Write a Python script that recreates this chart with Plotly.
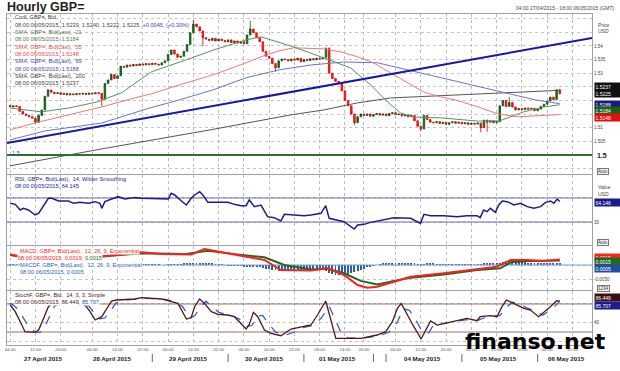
import plotly.graph_objects as go
import pandas as pd

# ---------------- data ----------------
close = [
 1.5176,1.5180,1.5178,1.5160,1.5150,1.5145,1.5140,1.5135,1.5120,1.5145,
 1.5165,1.5215,1.5238,1.5230,1.5225,
 1.5228,1.5222,1.5226,1.5220,1.5224,1.5221,1.5225,1.5223,1.5226,1.5222,1.5227,1.5224,1.5228,1.5226,
 1.5205,1.5262,1.5275,1.5295,1.5280,1.5290,1.5325,
 1.5322,1.5330,1.5326,1.5332,1.5328,1.5334,1.5330,1.5335,1.5331,1.5336,1.5333,1.5330,1.5338,
 1.5345,1.5368,1.5385,1.5370,1.5358,1.5362,1.5380,1.5405,1.5448,1.5480,1.5470,1.5455,1.5430,1.5425,
 1.5420,1.5428,1.5418,1.5425,1.5420,1.5415,1.5422,1.5412,1.5418,1.5410,1.5415,1.5408,
 1.5440,1.5462,1.5448,1.5430,1.5415,1.5380,1.5362,1.5355,1.5335,1.5320,1.5345,1.5352,
 1.5350,1.5345,1.5352,1.5348,1.5355,1.5342,1.5350,1.5346,1.5353,1.5349,1.5355,1.5352,
 1.5358,1.5390,1.5300,1.5280,1.5270,1.5262,1.5235,1.5200,1.5180,1.5150,1.5118,1.5140,1.5150,
 1.5145,1.5150,1.5142,1.5148,1.5152,1.5146,1.5150,1.5144,1.5152,1.5155,1.5148,1.5150,1.5143,1.5147,1.5140,1.5145,
 1.5125,1.5105,1.5095,1.5145,1.5130,1.5120,
 1.5118,1.5122,1.5115,1.5120,1.5112,1.5118,1.5122,1.5116,1.5120,1.5114,1.5118,1.5112,1.5116,1.5113,1.5117,
 1.5100,1.5128,1.5120,1.5125,1.5118,1.5122,
 1.5180,1.5200,1.5178,1.5192,1.5176,1.5165,1.5170,1.5166,1.5172,1.5168,1.5171,1.5162,1.5168,1.5178,
 1.5186,1.5198,1.5212,1.5203,1.5239,1.5225,
]
first_open = 1.5182
wick_high = {12: 1.5242, 58: 1.5495, 76: 1.5492, 100: 1.5395, 101: 1.5395, 158: 1.5212, 173: 1.5240}
wick_low = {8: 1.5115, 29: 1.5178, 61: 1.5398, 84: 1.5305, 109: 1.5110, 130: 1.5088,
            149: 1.5083, 151: 1.5085, 174: 1.5222}

# moving averages: (bar index, value)
sma21_x = [0, 10, 18.5, 27.4, 35.3, 44.7, 55.8, 64.4, 74.7, 79.4, 85.7, 90.5, 99.3, 107.8, 114.1,
           119.5, 123.6, 127.7, 136.2, 148.2, 155, 162.6, 169, 174]
sma21_y = [1.5172, 1.5158, 1.5172, 1.5194, 1.5228, 1.5305, 1.5349, 1.5385, 1.5422, 1.5433, 1.5411,
           1.5393, 1.5356, 1.5319, 1.5257, 1.5194, 1.5154, 1.5139, 1.5136, 1.5124, 1.5125, 1.5158,
           1.5176, 1.5184]
sma55_x = [0, 7.8, 18.5, 29, 39.4, 44.7, 53.6, 64.3, 74.7, 81, 85.1, 89.8, 99.3, 104.7, 110, 115,
           120.4, 125.8, 130.9, 136.2, 140.9, 148.2, 154.5, 160.8, 167.8, 174]
sma55_y = [1.5092, 1.5117, 1.5147, 1.5176, 1.5209, 1.5224, 1.5257, 1.5294, 1.5338, 1.5367, 1.5382,
           1.5393, 1.5389, 1.5378, 1.5360, 1.5338, 1.5301, 1.5264, 1.5231, 1.5213, 1.5202, 1.5176,
           1.5150, 1.5140, 1.5143, 1.5148]
sma89_x = [0, 11, 29, 37.5, 43.2, 53.6, 64.3, 74.7, 85.1, 95.2, 105.6, 116.3, 129.9, 145, 155.8,
           166.2, 174]
sma89_y = [1.5055, 1.5088, 1.5117, 1.5147, 1.5169, 1.5202, 1.5239, 1.5283, 1.5312, 1.5330, 1.5341,
           1.5338, 1.5301, 1.5261, 1.5231, 1.5202, 1.5188]
sma200_x = [0, 29, 64.3, 88.9, 99.3, 110, 120.4, 136.2, 155.8, 174]
sma200_y = [1.4960, 1.5022, 1.5094, 1.5147, 1.5165, 1.5191, 1.5209, 1.5217, 1.5228, 1.5237]
trend_x = [-1.0, 184.2]
trend_y = [1.5044, 1.5429]
support_level = 1.5

rsi_x = [0, 1.6, 3.2, 4.2, 5.8, 7.9, 9, 10.6, 12.1, 13.2, 15.3, 18.5, 20, 22.1, 24.8, 26.9, 28.4, 29,
         30, 32.1, 34.2, 36.3, 39.5, 41.6, 44.7, 47.9, 50, 51, 52.1, 54.2, 55.8, 57.3, 58.4, 60, 61,
         62.6, 64.7, 68.9, 71, 73.1, 74.7, 75.7, 77.3, 79.4, 81.5, 83.6, 85.7, 86.3, 86.8, 89.9,
         93.1, 95.2, 98.4, 99.9, 101, 105.7, 108.9, 110, 112, 114.1, 116.2, 118.3, 121.5, 126.8,
         129.9, 131, 133.1, 137.3, 141.5, 144.6, 147.8, 148.8, 149.9, 151, 152, 153.6, 154.7,
         155.8, 157.4, 159.5, 161.6, 163.7, 165.8, 167.9, 169.5, 171.1, 172.1, 173.2, 174]
rsi_y = [61.1, 59.4, 50, 52.8, 50, 41.7, 44.4, 58.3, 69.4, 69.4, 65, 65, 61.1, 62.8, 61.1, 63.9, 61.1,
         52.8, 63.9, 68.3, 72.2, 68.3, 70.6, 69.4, 69.4, 69.4, 68.3, 77.8, 75, 65, 58.3, 69.4, 75,
         80.6, 75, 62.8, 62.8, 62.8, 59.4, 57.2, 57.2, 66.7, 55.6, 58.3, 38.9, 37.2, 31.7, 38.9,
         42.8, 41.7, 40.6, 41.7, 44.4, 57.2, 36.1, 30.6, 18.3, 25, 26.1, 29.4, 31.7, 33.3, 37.2,
         36.1, 27.8, 42.8, 40.6, 40.6, 38.9, 40.6, 40.6, 37.2, 50, 47.2, 52.8, 46.1, 58.3, 65,
         63.9, 58.3, 61.1, 55.6, 52.8, 55.6, 62.8, 65, 61.1, 68.3, 64.145]

macd_x = [0, 4, 28, 35, 41.6, 47.9, 57.3, 61.5, 64.7, 73.1, 80.5, 85.7, 95.2, 100.5, 105.7, 110,
          113, 116.2, 121.5, 126.8, 137.3, 147.8, 154.1, 158.4, 163.7, 168.9, 174]
macd_y = [0.0036, 0.0028, 0.0028, 0.0036, 0.0043, 0.0037, 0.0036, 0.0054, 0.0048, 0.0031, 0.0017,
          -0.0017, -0.0019, -0.0011, -0.0034, -0.0068, -0.0077, -0.0074, -0.0057, -0.0040,
          -0.0028, -0.0015, -0.0006, 0.0017, 0.0017, 0.0014, 0.0019]
signal_x = [0, 4, 28, 41.6, 55.2, 62.6, 71, 80.5, 86.8, 95.2, 100.5, 105.7, 111, 116.2, 121.5,
            126.8, 137.3, 147.8, 155.2, 158.4, 163.7, 168.9, 174]
signal_y = [0.0034, 0.0026, 0.0028, 0.0040, 0.0037, 0.0048, 0.0037, 0.0026, 0.0000, -0.0015,
            -0.0013, -0.0028, -0.0054, -0.0066, -0.0054, -0.0043, -0.0032, -0.0017, -0.0011,
            0.0009, 0.0014, 0.0014, 0.0015]
macdf_e4 = [3, 3, 2, 2, 1, 1, 0, -1, -1, 0, 1, 2, 3, 3, 3,
            2, 2, 1, 1, 1, 0, 0, 0, -1, -1, -1, 0, 1, 1, 2, 2,
            3, 3, 3, 3, 4, 4, 4, 3, 3, 3, 3, 2, 2, 2, 1,
            1, 1, 0, 0, 1, 2, 3, 3, 3, 4, 5, 6,
            7, 8, 8, 7, 6, 5, 4, 3, 2,
            1, 0, -1, -1, -2, -3, -3, -4, -4, -4, -5, -6, -8, -10,
            -12, -14, -16, -18, -20, -22, -22, -22, -21, -21, -20, -20, -19, -19, -18,
            -18, -17, -16, -18, -22, -26, -30, -33, -34, -34, -33, -31, -28, -24, -20, -16, -12,
            -8, -5, -2, 0, 2, 4, 6, 7, 8, 8, 8, 7, 6,
            5, 4, 4, 3, 2, 3, 4, 4, 4, 3, 3, 3, 3, 3, 3,
            3, 3, 2, 2, 2, 2, 2, 2, 3, 4, 4, 4, 4, 5, 8,
            11, 14, 16, 17, 16, 14, 12, 9, 7, 6,
            5, 5, 5, 5, 5, 5, 5, 5, 5]

stk_x = [0, 1.6, 3.2, 4.7, 7.9, 9, 10.6, 12.1, 14, 17, 20, 23.7, 25.3, 26.9, 29, 31, 32.1, 33.7,
         39.5, 41.6, 47.9, 51, 53.1, 55.8, 57.3, 58.4, 60, 61.5, 63.7, 65.8, 68.9, 71, 73.1, 74.7,
         75.7, 77, 78.4, 80.5, 82.6, 85.7, 88.9, 92, 95.2, 97.3, 99.9, 103.1, 105.7, 111, 116.2,
         118.9, 121, 122.6, 123.8, 125.7, 127.8, 130.1, 132, 133.1, 135.2, 139.4, 142.5, 144.6,
         147.8, 148.8, 152, 154.1, 155.7, 157.1, 159.4, 162.6, 164.7, 167.3, 171, 172.9, 174]
stk_y = [77.8, 63.6, 42.1, 20.7, 19.3, 24.3, 49.3, 74.2, 86, 88, 84, 77.8, 63.6, 45.7, 52.8, 74.2,
         86.4, 88.5, 90.7, 93.5, 90.7, 85, 81.4, 47.8, 50.7, 74.2, 90.7, 81.4, 63.6, 57.8, 56.4,
         52.8, 38.6, 26.4, 36.4, 62.1, 52.8, 24.3, 17.1, 12.1, 26.4, 31.4, 35, 56.4, 86.4, 6.4,
         6.4, 6.4, 13.6, 20.7, 42.1, 70.7, 81.4, 56.4, 31.4, 5, 31.4, 43.6, 35, 42.1, 45.7, 49.3,
         44.3, 52.8, 55, 52.8, 74.2, 88.5, 81.4, 70.7, 67.1, 52.8, 74.2, 86.4, 86.449]
std_x = [0, 2, 4, 6, 8, 9.5, 11, 12.5, 14, 17, 20, 23, 25, 26.5, 28.3, 30, 32, 33.5, 36, 40, 43, 49,
         52, 54.5, 57, 58.5, 60, 62, 64, 66, 70, 72.5, 75, 76.5, 78.5, 80, 82, 84, 87, 90, 93, 96,
         98.5, 101, 103, 105, 107, 112, 117, 120, 122.5, 124.5, 126.5, 128.5, 130.5, 132.5, 134,
         136, 140, 144, 148, 150, 153, 155, 157, 159, 161, 163.5, 166, 168.5, 171, 173, 174]
std_y = [82, 72, 52, 30, 20, 19, 32, 55, 75, 85, 86, 80, 75, 62, 48, 50, 68, 82, 88, 90, 92, 90, 85,
         75, 50, 55, 72, 86, 74, 62, 55, 48, 32, 34, 55, 55, 36, 20, 13, 20, 30, 34, 50, 75, 45,
         15, 7, 7, 12, 20, 40, 70, 66, 45, 20, 18, 35, 38, 41, 46, 45, 50, 54, 55, 72, 84, 80, 72,
         66, 56, 66, 80, 85.707]

tick_times = ['2015-04-27 04:00', '2015-04-27 12:00', '2015-04-27 20:00', '2015-04-28 06:00',
              '2015-04-28 14:00', '2015-04-28 22:00', '2015-04-29 06:00', '2015-04-29 14:00',
              '2015-04-29 22:00', '2015-04-30 06:00', '2015-04-30 14:00', '2015-04-30 22:00',
              '2015-05-01 06:00', '2015-05-01 14:00', '2015-05-01 20:00', '2015-05-04 04:00',
              '2015-05-04 12:00', '2015-05-04 20:00', '2015-05-05 04:00', '2015-05-05 12:00',
              '2015-05-05 20:00', '2015-05-06 04:00', '2015-05-06 12:00']
day_dates = ['2015-04-27', '2015-04-28', '2015-04-29', '2015-04-30', '2015-05-01', '2015-05-04',
             '2015-05-05', '2015-05-06']
day_labels = ['27 April 2015', '28 April 2015', '29 April 2015', '30 April 2015', '01 May 2015',
              '04 May 2015', '05 May 2015', '06 May 2015']

# ---------------- derived ----------------
slots = list(pd.date_range('2015-04-27 04:00', '2015-05-01 21:00', freq='h')) + \
        list(pd.date_range('2015-05-03 20:00', '2015-05-06 18:00', freq='h'))
slot_idx = {t: i for i, t in enumerate(slots)}
tick_idx = [slot_idx[pd.Timestamp(t)] for t in tick_times]
tick_txt = [t[-5:] for t in tick_times]

n = len(close)
xs = list(range(n))
opens = [first_open] + close[:-1]
highs = [wick_high.get(i, max(o, c)) for i, (o, c) in enumerate(zip(opens, close))]
lows = [wick_low.get(i, min(o, c)) for i, (o, c) in enumerate(zip(opens, close))]

XR = [-1.0, 184.2]
FONT = 'Liberation Sans'

fig = go.Figure()
# main panel
fig.add_trace(go.Scatter(x=sma200_x, y=sma200_y, mode='lines', line=dict(color='#555555', width=1), xaxis='x', yaxis='y'))
fig.add_trace(go.Scatter(x=sma89_x, y=sma89_y, mode='lines', line=dict(color='#6f6fd2', width=1), xaxis='x', yaxis='y'))
fig.add_trace(go.Scatter(x=sma55_x, y=sma55_y, mode='lines', line=dict(color='#f07878', width=1), xaxis='x', yaxis='y'))
fig.add_trace(go.Scatter(x=sma21_x, y=sma21_y, mode='lines', line=dict(color='#5a915a', width=1), xaxis='x', yaxis='y'))
fig.add_trace(go.Scatter(x=trend_x, y=trend_y, mode='lines', line=dict(color='#1818a0', width=2), xaxis='x', yaxis='y'))
fig.add_trace(go.Scatter(x=XR, y=[support_level, support_level], mode='lines', line=dict(color='#2f6f2f', width=2), xaxis='x', yaxis='y'))
fig.add_trace(go.Candlestick(x=xs, open=opens, high=highs, low=lows, close=close,
                             increasing=dict(line=dict(color='#174d17', width=0.8), fillcolor='#0c7a0c'),
                             decreasing=dict(line=dict(color='#d80000', width=0.8), fillcolor='#ff2a2a'),
                             whiskerwidth=0, xaxis='x', yaxis='y', hoverinfo='skip'))
# RSI
fig.add_trace(go.Scatter(x=XR, y=[70, 70], mode='lines', line=dict(color='#6b6bb8', width=1), xaxis='x2', yaxis='y2'))
fig.add_trace(go.Scatter(x=XR, y=[30, 30], mode='lines', line=dict(color='#6b6bb8', width=1), xaxis='x2', yaxis='y2'))
fig.add_trace(go.Scatter(x=rsi_x, y=rsi_y, mode='lines', line=dict(color='#1c1c8c', width=1.5), xaxis='x2', yaxis='y2'))
# MACD
fig.add_trace(go.Scatter(x=XR, y=[0, 0], mode='lines', line=dict(color='#7aa3d6', width=1), xaxis='x3', yaxis='y3'))
fig.add_trace(go.Bar(x=xs, y=[v * 1e-4 for v in macdf_e4], width=0.3, marker=dict(color='#2a5fae', line=dict(width=0)),
                     xaxis='x3', yaxis='y3'))
fig.add_trace(go.Scatter(x=signal_x, y=signal_y, mode='lines', line=dict(color='#1e6b1e', width=2), xaxis='x3', yaxis='y3'))
fig.add_trace(go.Scatter(x=macd_x, y=macd_y, mode='lines', line=dict(color='#ff1e1e', width=2), xaxis='x3', yaxis='y3'))
# Stoch
fig.add_trace(go.Scatter(x=XR, y=[80, 80], mode='lines', line=dict(color='#9a7070', width=1), xaxis='x4', yaxis='y4'))
fig.add_trace(go.Scatter(x=XR, y=[20, 20], mode='lines', line=dict(color='#9a7070', width=1), xaxis='x4', yaxis='y4'))
fig.add_trace(go.Scatter(x=std_x, y=std_y, mode='lines', line=dict(color='#2b4fd8', width=1.2, dash='dash'), xaxis='x4', yaxis='y4'))
fig.add_trace(go.Scatter(x=stk_x, y=stk_y, mode='lines', line=dict(color='#4a1a1a', width=1.3), xaxis='x4', yaxis='y4'))

# geometry helpers (pixel -> paper)
def PX(p):
    return (p - 5) / 587.0

def PY(p):
    return (345 - p) / 331.0

doms = {'': [PY(174), 1.0], '2': [PY(245), PY(175)], '3': [PY(290), PY(246)], '4': [0.0, PY(291)]}

def xax(k):
    return dict(domain=[0, 1], range=XR, anchor='y' + k, tickvals=tick_idx, ticktext=tick_txt,
                showticklabels=(k == '4'), ticks='', tickfont=dict(size=4.4, color='#555', family=FONT),
                showgrid=True, gridcolor='#bcbcbc', griddash='dot', gridwidth=1, zeroline=False,
                showline=True, linecolor='#a0a0a0', linewidth=1, mirror=True,
                rangeslider=dict(visible=False), fixedrange=True)

def yax(k, rng, tv, tt):
    return dict(domain=doms[k], range=rng, anchor='x' + k, side='right', tickvals=tv, ticktext=tt,
                ticks='', tickfont=dict(size=4.6, color='#444', family=FONT),
                showgrid=True, gridcolor='#c4c4c4', griddash='dot', gridwidth=1, zeroline=False,
                showline=True, linecolor='#a0a0a0', linewidth=1, mirror=True, fixedrange=True)

price_ticks = [1.495, 1.5, 1.505, 1.51, 1.515, 1.52, 1.525, 1.53, 1.535, 1.54, 1.545, 1.55]
price_txt = ['', '', '1.505', '1.51', '', '', '', '1.53', '1.535', '1.54', '', '']

fig.update_layout(
    width=620, height=371, margin=dict(l=5, r=28, t=14, b=26),
    paper_bgcolor='white', plot_bgcolor='white', showlegend=False, bargap=0,
    xaxis=xax(''), xaxis2=xax('2'), xaxis3=xax('3'), xaxis4=xax('4'),
    yaxis=yax('', [1.4930, 1.5517], price_ticks, price_txt),
    yaxis2=yax('2', [-8.3, 108.3], [30, 70], ['30', '']),
    yaxis3=yax('3', [-0.0085, 0.00646], [-0.005, 0], ['-0.0050', '']),
    yaxis4=yax('4', [-7.8, 107.8], [0, 40, 80], ['', '40', '']),
)

anns = []

def txt(text, xpx, ypx, size=5.6, color='#333', anchor='left', bg=None, **kw):
    d = dict(text=text, xref='paper', yref='paper', x=PX(xpx), y=PY(ypx), xanchor=anchor,
             yanchor='middle', showarrow=False, font=dict(size=size, color=color, family=FONT),
             borderpad=0)
    if bg:
        d['bgcolor'] = bg
    d.update(kw)
    anns.append(d)

def box(text, yref, val, shift, bg, fg='white'):
    anns.append(dict(text=text, xref='paper', x=PX(594), xanchor='left', yref=yref, y=val,
                     yshift=shift, yanchor='middle', showarrow=False, bgcolor=bg, width=24,
                     align='left', borderpad=0.5, font=dict(size=5, color=fg, family=FONT)))

# title and header
txt('<b>Hourly GBP=</b>', 4, 7, size=12.5, color='#222')
txt('04:00 27/04/2015 - 18:00 06/05/2015 (GMT)', 615, 8.5, size=5, color='#444', anchor='right')

# main legend
g = '#4d7f4d'; r = '#e84c4c'; b = '#4848b0'; k = '#444'
txt('Cndl, GBP=, Bid', 12, 17, color=k)
txt('08:00 06/05/2015, 1.5239, 1.5240, 1.5222, 1.5225, <span style="color:#3a3ad0">+0.0045, (+0.30%)</span>', 12, 24.5, color=k)
txt('SMA, GBP=, Bid(Last),  21', 12, 32, color=g)
txt('08:00 06/05/2015, 1.5184', 12, 39.5, color=g)
txt('SMA, GBP=, Bid(Last),  55', 12, 47, color=r)
txt('08:00 06/05/2015, 1.5148', 12, 54, color=r)
txt('SMA, GBP=, Bid(Last),  89', 12, 61.5, color=b)
txt('08:00 06/05/2015, 1.5188', 12, 68.5, color=b)
txt('SMA, GBP=, Bid(Last),  200', 12, 76, color=k)
txt('08:00 06/05/2015, 1.5237', 12, 83, color=k)
txt('1.5', 9, 152.5, size=5.6, color='#3a3ad0')

# RSI legend
txt('RSI, GBP=, Bid(Last),  14, Wilder Smoothing', 12, 179, color='#1c1c8c')
txt('08:00 06/05/2015, 64.145', 12, 186, color='#1c1c8c')
# MACD legend
txt('MACD, GBP=, Bid(Last),  12, 26, 9, Exponential', 17, 251, color='#ff2020', bg='white')
txt('08:00 06/05/2015, 0.0019, <span style="color:#1e6b1e">0.0015</span>', 15, 257.5, color='#ff2020', bg='white')
txt('MACDF, GBP=, Bid(Last),  12, 26, 9, Exponential', 17, 264.5, color='#2a5fae', bg='white')
txt('08:00 06/05/2015, 0.0005', 17, 271.5, color='#2a5fae', bg='white')
# Stoch legend
txt('StochF, GBP=, Bid,  14, 3, 3, Simple', 12, 295, color='#4a1a1a', bg='white')
txt('08:00 06/05/2015, 86.449, <span style="color:#2b4fd8">85.707</span>', 12, 302, color='#4a1a1a', bg='white')

# right-hand axis captions
txt('Price', 597, 24.5, size=5, color='#444')
txt('USD', 597, 31.5, size=5, color='#444')
txt('<b>1.5</b>', 596, 155, size=7, color='#222')
txt('Value', 597, 187, size=5, color='#444')
txt('USD', 597, 193.5, size=5, color='#444')
for ypix, label in [(171, 'Auto'), (242, 'Auto'), (288, '1234')]:
    txt(label, 597, ypix, size=4.5, color='#333', bg='#f2f2f2', bordercolor='#777', borderwidth=1)

# value boxes
box('1.5237', 'y', sma200_y[-1], 3.4, '#111111')
box('1.5225', 'y', close[-1], 0.0, '#111111')
box('1.5188', 'y', sma89_y[-1], -0.5, '#1a1a80')
box('1.5184', 'y', sma21_y[-1], -6.2, '#176017')
box('1.5148', 'y', sma55_y[-1], -2.6, '#e01010')
box('64.146', 'y2', rsi_y[-1], -1.2, '#1c1c8c')
box('0.0019', 'y3', macd_y[-1], 1.5, '#ff1e1e')
box('0.0015', 'y3', signal_y[-1], -0.7, '#1e6b1e')
box('0.0005', 'y3', macdf_e4[-1] * 1e-4, -4.5, '#1f4f9f')
box('86.449', 'y4', stk_y[-1], 3.0, '#3b1010')
box('85.707', 'y4', std_y[-1], -4.6, '#1c1c8c')

# date labels under the axis
for d, lab in zip(day_dates, day_labels):
    ids = [i for i, t in enumerate(slots) if t.strftime('%Y-%m-%d') == d]
    anns.append(dict(text='<b>' + lab + '</b>', xref='x4', x=sum(ids) / len(ids) + 1, yref='paper',
                     y=PY(358), showarrow=False, xanchor='center', yanchor='middle',
                     font=dict(size=6.2, color='#222', family=FONT)))

# watermark
anns.append(dict(text='<b>finanso.net</b>', xref='paper', yref='paper', x=PX(535), y=PY(341),
                 xanchor='center', yanchor='middle', showarrow=False,
                 font=dict(size=22, color='#000', family='DejaVu Sans')))
fig.update_layout(annotations=anns)

# day separators
shapes = []
sep_pos = [slot_idx[pd.Timestamp('2015-04-29 00:00')], slot_idx[pd.Timestamp('2015-04-30 00:00')],
           slot_idx[pd.Timestamp('2015-05-01 00:00')], slot_idx[pd.Timestamp('2015-05-01 21:00')] + 1,
           slot_idx[pd.Timestamp('2015-05-04 00:00')], slot_idx[pd.Timestamp('2015-05-05 00:00')],
           slot_idx[pd.Timestamp('2015-05-06 00:00')]]
for s in sep_pos:
    shapes.append(dict(type='line', xref='x4', x0=s + 1, x1=s + 1, yref='paper', y0=PY(354), y1=PY(362),
                       line=dict(color='#666', width=1)))
fig.update_layout(shapes=shapes)

fig.write_html('out.html', config={'displayModeBar': False},
               post_script="document.body.style.margin='0px';")
